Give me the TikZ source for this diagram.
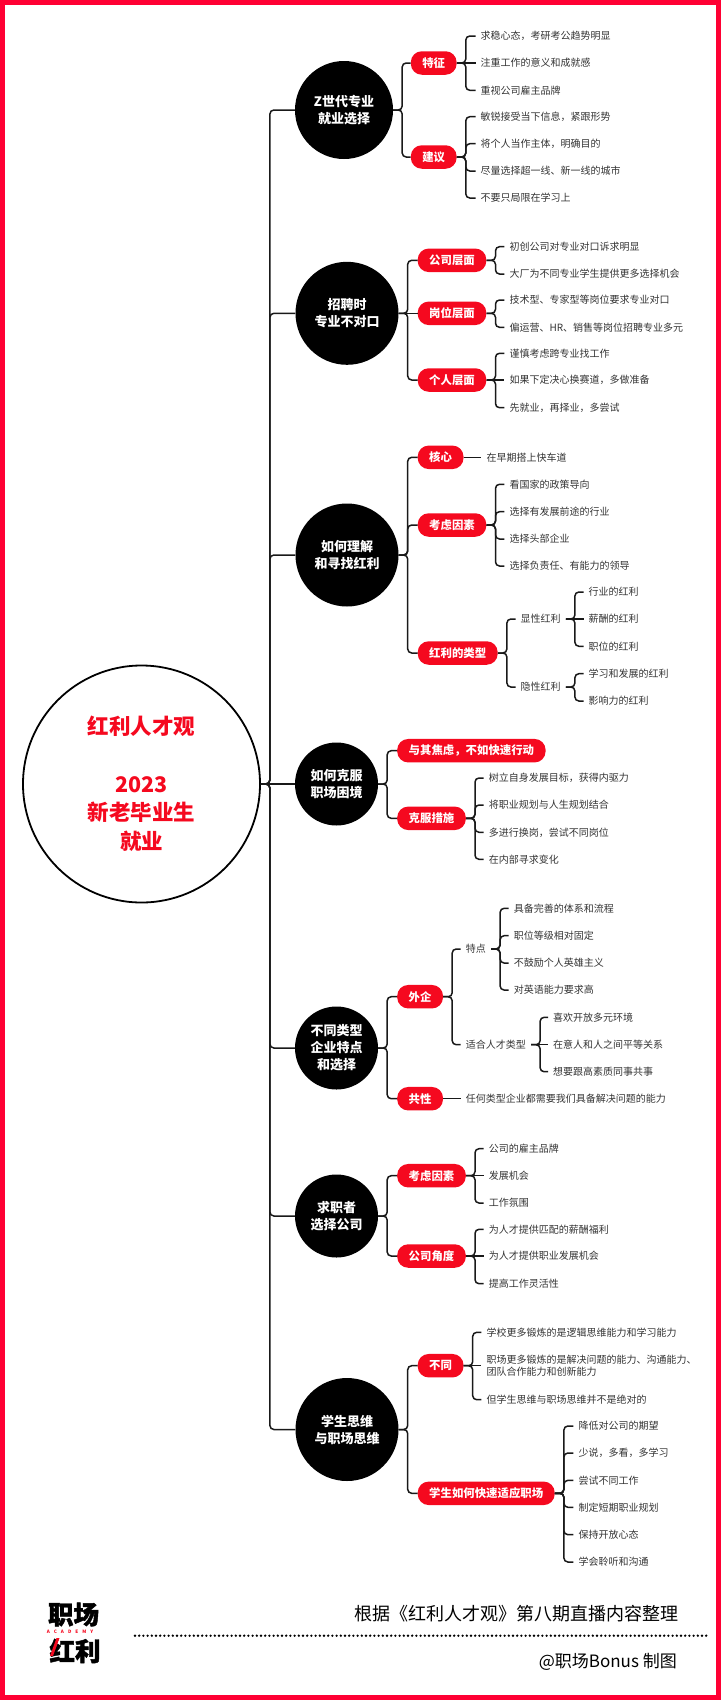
\documentclass[tikz,border=0pt]{standalone}
\usepackage{fontspec}
\setmainfont{Noto Sans CJK SC}
\newfontfamily\logofont[BoldFeatures={FakeBold=1.6}]{Noto Sans CJK SC}
\usetikzlibrary{positioning}
\definecolor{framered}{HTML}{FF0033}
\definecolor{pillred}{HTML}{F5091F}
\definecolor{leafgray}{HTML}{333333}
\tikzset{
  rootnode/.style={circle,draw=black,line width=1.8pt,fill=white,minimum size=237pt,inner sep=0pt,align=center,
    text=pillred,font=\fontsize{21.5}{28.7}\selectfont\bfseries},
  topic/.style={circle,fill=black,inner sep=0pt,align=center,text=white,font=\fontsize{13}{17}\selectfont\bfseries},
  pill/.style={anchor=west,fill=pillred,rounded corners=11pt,minimum height=23.5pt,inner xsep=11.5pt,inner ysep=0pt,
    text=white,font=\fontsize{11.4}{13}\selectfont\bfseries},
  leaf/.style={anchor=west,inner xsep=5pt,inner ysep=0pt,align=left,text=leafgray,font=\fontsize{10}{12.7}\selectfont},
  link/.style={draw=black!90,line width=1.5pt,rounded corners=4pt},
}
\newcommand{\kids}[2]{\foreach \kid in {#2} \draw[link] (#1.east) -- ++(9,0) |- (\kid.west);}
\newcommand{\onelink}[2]{\draw[link] (#1.east) -- (#2.west);}
\begin{document}
\begin{tikzpicture}[x=1pt,y=-1pt]
  \useasboundingbox (0,0) rectangle (721,1700);
  \draw[framered,line width=5pt] (2.5,2.5) rectangle (718.5,1697.5);

  \node[rootnode] (root) at (141.5,784) {红利人才观\\ \\2023\\新老毕业生\\就业};
  \node[topic,minimum size=98pt] (gen) at (344,110) {Z世代专业\\就业选择};
  \node[topic,minimum size=103pt] (hire) at (347,313.3) {招聘时\\专业不对口};
  \node[topic,minimum size=103pt] (bonus) at (347,555) {如何理解\\和寻找红利};
  \node[topic,minimum size=83pt] (hard) at (336.5,784) {如何克服\\职场困境};
  \node[topic,minimum size=83pt] (firm) at (336.5,1048) {不同类型\\企业特点\\和选择};
  \node[topic,minimum size=83pt] (seek) at (336.5,1216) {求职者\\选择公司};
  \node[topic,minimum size=103pt] (mind) at (347,1429.5) {学生思维\\与职场思维};

  % first topic
  \node[pill] (trait) at (410.6,63) {特征};
  \node[pill] (tip) at (410.6,157) {建议};
  \node[leaf] (trait1) at (475.5,36) {求稳心态，考研考公趋势明显};
  \node[leaf] (trait2) at (475.5,63) {注重工作的意义和成就感};
  \node[leaf] (trait3) at (475.5,90.3) {重视公司雇主品牌};
  \node[leaf] (tip1) at (475.5,116.7) {敏锐接受当下信息，紧跟形势};
  \node[leaf] (tip2) at (475.5,143.7) {将个人当作主体，明确目的};
  \node[leaf] (tip3) at (475.5,171) {尽量选择超一线、新一线的城市};
  \node[leaf] (tip4) at (475.5,198) {不要只局限在学习上};

  % second topic
  \node[pill] (corp) at (417.5,260.3) {公司层面};
  \node[pill] (post) at (417.5,313.3) {岗位层面};
  \node[pill] (self) at (417.5,380) {个人层面};
  \node[leaf] (corp1) at (504.4,246.7) {初创公司对专业对口诉求明显};
  \node[leaf] (corp2) at (504.4,274) {大厂为不同专业学生提供更多选择机会};
  \node[leaf] (post1) at (504.4,300) {技术型、专家型等岗位要求专业对口};
  \node[leaf] (post2) at (504.4,327.3) {偏运营、HR、销售等岗位招聘专业多元};
  \node[leaf] (self1) at (504.4,353.3) {谨慎考虑跨专业找工作};
  \node[leaf] (self2) at (504.4,380) {如果下定决心换赛道，多做准备};
  \node[leaf] (self3) at (504.4,407.7) {先就业，再择业，多尝试};

  % third topic
  \node[pill] (core) at (417.5,457.3) {核心};
  \node[pill] (factor) at (417.5,525) {考虑因素};
  \node[pill] (kind) at (417.5,653) {红利的类型};
  \node[leaf] (core1) at (481.4,457.3) {在早期搭上快车道};
  \node[leaf] (factor1) at (504.4,484.3) {看国家的政策导向};
  \node[leaf] (factor2) at (504.4,511.7) {选择有发展前途的行业};
  \node[leaf] (factor3) at (504.4,539) {选择头部企业};
  \node[leaf] (factor4) at (504.4,566) {选择负责任、有能力的领导};
  \node[leaf] (open) at (515.5,619) {显性红利};
  \node[leaf] (hidden) at (515.5,687) {隐性红利};
  \node[leaf] (open1) at (583.5,592) {行业的红利};
  \node[leaf] (open2) at (583.5,619) {薪酬的红利};
  \node[leaf] (open3) at (583.5,646.3) {职位的红利};
  \node[leaf] (hidden1) at (583.5,673.7) {学习和发展的红利};
  \node[leaf] (hidden2) at (583.5,701) {影响力的红利};

  % fourth topic
  \node[pill] (act) at (397,750.7) {与其焦虑，不如快速行动};
  \node[pill] (fix) at (397,818.3) {克服措施};
  \node[leaf] (fix1) at (483.7,778) {树立自身发展目标，获得内驱力};
  \node[leaf] (fix2) at (483.7,805) {将职业规划与人生规划结合};
  \node[leaf] (fix3) at (483.7,832.3) {多进行换岗，尝试不同岗位};
  \node[leaf] (fix4) at (483.7,859.3) {在内部寻求变化};

  % fifth topic
  \node[pill] (foreign) at (397,996.7) {外企};
  \node[pill] (common) at (397,1098.7) {共性};
  \node[leaf] (mark) at (460.7,949) {特点};
  \node[leaf] (fit) at (460.7,1044.7) {适合人才类型};
  \node[leaf] (common1) at (460.7,1098.7) {任何类型企业都需要我们具备解决问题的能力};
  \node[leaf] (mark1) at (508.6,908.3) {具备完善的体系和流程};
  \node[leaf] (mark2) at (508.6,935.7) {职位等级相对固定};
  \node[leaf] (mark3) at (508.6,963) {不鼓励个人英雄主义};
  \node[leaf] (mark4) at (508.6,990) {对英语能力要求高};
  \node[leaf] (fit1) at (548,1017.3) {喜欢开放多元环境};
  \node[leaf] (fit2) at (548,1044.7) {在意人和人之间平等关系};
  \node[leaf] (fit3) at (548,1071.7) {想要跟高素质同事共事};

  % sixth topic
  \node[pill] (weigh) at (397,1175.7) {考虑因素};
  \node[pill] (angle) at (397,1256) {公司角度};
  \node[leaf] (weigh1) at (483.7,1148.7) {公司的雇主品牌};
  \node[leaf] (weigh2) at (483.7,1175.7) {发展机会};
  \node[leaf] (weigh3) at (483.7,1203) {工作氛围};
  \node[leaf] (angle1) at (483.7,1229.3) {为人才提供匹配的薪酬福利};
  \node[leaf] (angle2) at (483.7,1256) {为人才提供职业发展机会};
  \node[leaf] (angle3) at (483.7,1283.7) {提高工作灵活性};

  % seventh topic
  \node[pill] (diff) at (417.5,1365.7) {不同};
  \node[pill] (adapt) at (417.5,1493.3) {学生如何快速适应职场};
  \node[leaf] (diff1) at (481.4,1332.3) {学校更多锻炼的是逻辑思维能力和学习能力};
  \node[leaf] (diff2) at (481.4,1365.7) {职场更多锻炼的是解决问题的能力、沟通能力、\\团队合作能力和创新能力};
  \node[leaf] (diff3) at (481.4,1399.7) {但学生思维与职场思维并不是绝对的};
  \node[leaf] (adapt1) at (573.4,1426) {降低对公司的期望};
  \node[leaf] (adapt2) at (573.4,1453) {少说，多看，多学习};
  \node[leaf] (adapt3) at (573.4,1480.3) {尝试不同工作};
  \node[leaf] (adapt4) at (573.4,1507.3) {制定短期职业规划};
  \node[leaf] (adapt5) at (573.4,1534.7) {保持开放心态};
  \node[leaf] (adapt6) at (573.4,1562) {学会聆听和沟通};

  \kids{root}{gen,hire,bonus,firm,seek,mind}
  \onelink{root}{hard}
  \kids{gen}{trait,tip}
  \kids{trait}{trait1,trait3}
  \onelink{trait}{trait2}
  \kids{tip}{tip1,tip2,tip3,tip4}
  \kids{hire}{corp,self}
  \onelink{hire}{post}
  \kids{corp}{corp1,corp2}
  \kids{post}{post1,post2}
  \kids{self}{self1,self3}
  \onelink{self}{self2}
  \kids{bonus}{core,factor,kind}
  \onelink{core}{core1}
  \kids{factor}{factor1,factor2,factor3,factor4}
  \kids{kind}{open,hidden}
  \kids{open}{open1,open3}
  \onelink{open}{open2}
  \kids{hidden}{hidden1,hidden2}
  \kids{hard}{act,fix}
  \kids{fix}{fix1,fix2,fix3,fix4}
  \kids{firm}{foreign,common}
  \kids{foreign}{mark,fit}
  \kids{mark}{mark1,mark2,mark3,mark4}
  \kids{fit}{fit1,fit3}
  \onelink{fit}{fit2}
  \onelink{common}{common1}
  \kids{seek}{weigh,angle}
  \kids{weigh}{weigh1,weigh3}
  \onelink{weigh}{weigh2}
  \kids{angle}{angle1,angle3}
  \onelink{angle}{angle2}
  \kids{mind}{diff,adapt}
  \kids{diff}{diff1,diff3}
  \onelink{diff}{diff2}
  \kids{adapt}{adapt1,adapt2,adapt3,adapt4,adapt5,adapt6}

  % footer
  \node[inner sep=0pt,font=\logofont\fontsize{25.5}{26}\selectfont\bfseries] (logotop) at (73.5,1614.5) {职场};
  \node[inner sep=0pt,text=pillred,font=\fontsize{4.6}{5}\selectfont\bfseries] (logomid) at (70,1632) {A\hspace{4pt}C\hspace{4pt}A\hspace{4pt}D\hspace{4pt}E\hspace{4pt}M\hspace{4pt}Y};
  \node[inner sep=0pt,font=\logofont\fontsize{25.5}{26}\selectfont\bfseries] (logobot) at (75,1651) {红利};
  \fill[pillred] (56.5,1638) -- (59.5,1638) -- (53,1656) -- (50,1656) -- cycle;
  \node[anchor=east,inner sep=0pt,font=\fontsize{18}{20}\selectfont] (source) at (679,1614) {根据《红利人才观》第八期直播内容整理};
  \node[anchor=east,inner sep=0pt,font=\fontsize{17}{20}\selectfont] (credit) at (677,1662) {@职场Bonus 制图};
  \coordinate (ruleleft) at (135,1635.7);
  \coordinate (ruleright) at (710,1635.7);
  \draw[line width=2.6pt,line cap=round,dash pattern=on 0pt off 4.2pt] (ruleleft) -- (ruleright);
\end{tikzpicture}
\end{document}
